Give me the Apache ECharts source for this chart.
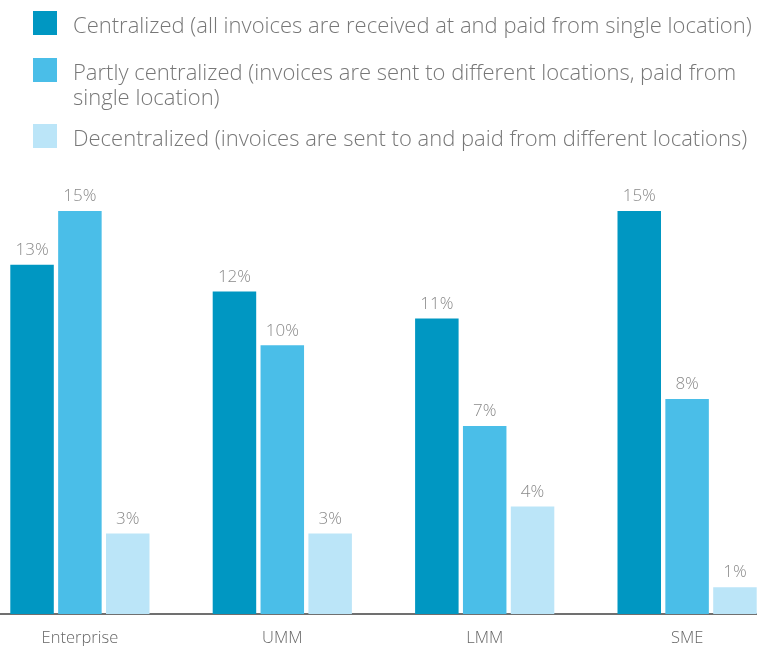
<!DOCTYPE html>
<html>
<head>
<meta charset="utf-8">
<script src="https://cdn.jsdelivr.net/npm/echarts@6/dist/echarts.min.js"></script>
<style>html,body{margin:0;padding:0;background:#fff}#c{width:757px;height:646px}</style>
</head>
<body>
<div id="c"></div>
<script>
const categories = ['Enterprise', 'UMM', 'LMM', 'SME'];
const seriesNames = [
  'Centralized (all invoices are received at and paid from single location)',
  'Partly centralized (invoices are sent to different locations, paid from single location)',
  'Decentralized (invoices are sent to and paid from different locations)'
];
const legendLines = [
  ['Centralized (all invoices are received at and paid from single location)'],
  ['Partly centralized (invoices are sent to different locations, paid from', 'single location)'],
  ['Decentralized (invoices are sent to and paid from different locations)']
];
const centralized = [13, 12, 11, 15];
const partlyCentralized = [15, 10, 7, 8];
const decentralized = [3, 3, 4, 1];
const colors = ['#0097C2', '#4ABEE8', '#BBE5F8'];

const FONT = '"Open Sans", sans-serif';
const LEG_FS = 22;
const chart = echarts.init(document.getElementById('c'));
const values = [centralized, partlyCentralized, decentralized];
const legendTops = [11, 58, 124];

function legendFor(i) {
  return {
    data: [seriesNames[i]],
    left: 33, top: legendTops[i],
    padding: 0,
    itemWidth: 24, itemHeight: 24,
    icon: 'rect',
    selectedMode: false,
    formatter: function () { return '{t|' + legendLines[i][0] + '}'; },
    textStyle: {
      fontFamily: FONT, fontWeight: 300, fontSize: LEG_FS, color: '#777',
      padding: [0, 0, 0, 11],
      rich: { t: { fontFamily: FONT, fontWeight: 300, fontSize: LEG_FS, color: '#777', padding: [7, 0, 0, 0] } }
    }
  };
}

chart.setOption({
  animation: false,
  legend: [0, 1, 2].map(legendFor),
  graphic: [{
    type: 'text', left: 73, top: 88,
    style: {
      text: legendLines[1][1],
      fontFamily: FONT, fontWeight: 300, fontSize: LEG_FS, fill: '#777'
    }
  }],
  grid: { left: -21.3, width: 809.6, top: 184, bottom: 32, containLabel: false, outerBoundsMode: 'none' },
  xAxis: {
    type: 'category', data: categories,
    axisLine: { lineStyle: { color: '#707070', width: 2 } },
    axisTick: { show: false },
    axisLabel: { fontFamily: FONT, fontWeight: 300, fontSize: 16.5, color: '#666', margin: 16 }
  },
  yAxis: { type: 'value', min: 0, max: 16, show: false, splitLine: { show: false } },
  series: values.map((v, i) => ({
    name: seriesNames[i], type: 'bar', data: v,
    barWidth: 43.5, barGap: '10%',
    itemStyle: { color: colors[i] },
    label: {
      show: true, position: 'top', distance: 6,
      formatter: '{c}%',
      fontFamily: FONT, fontWeight: 300, fontSize: 17, color: '#8a8a8a'
    }
  }))
});
</script>
</body>
</html>
